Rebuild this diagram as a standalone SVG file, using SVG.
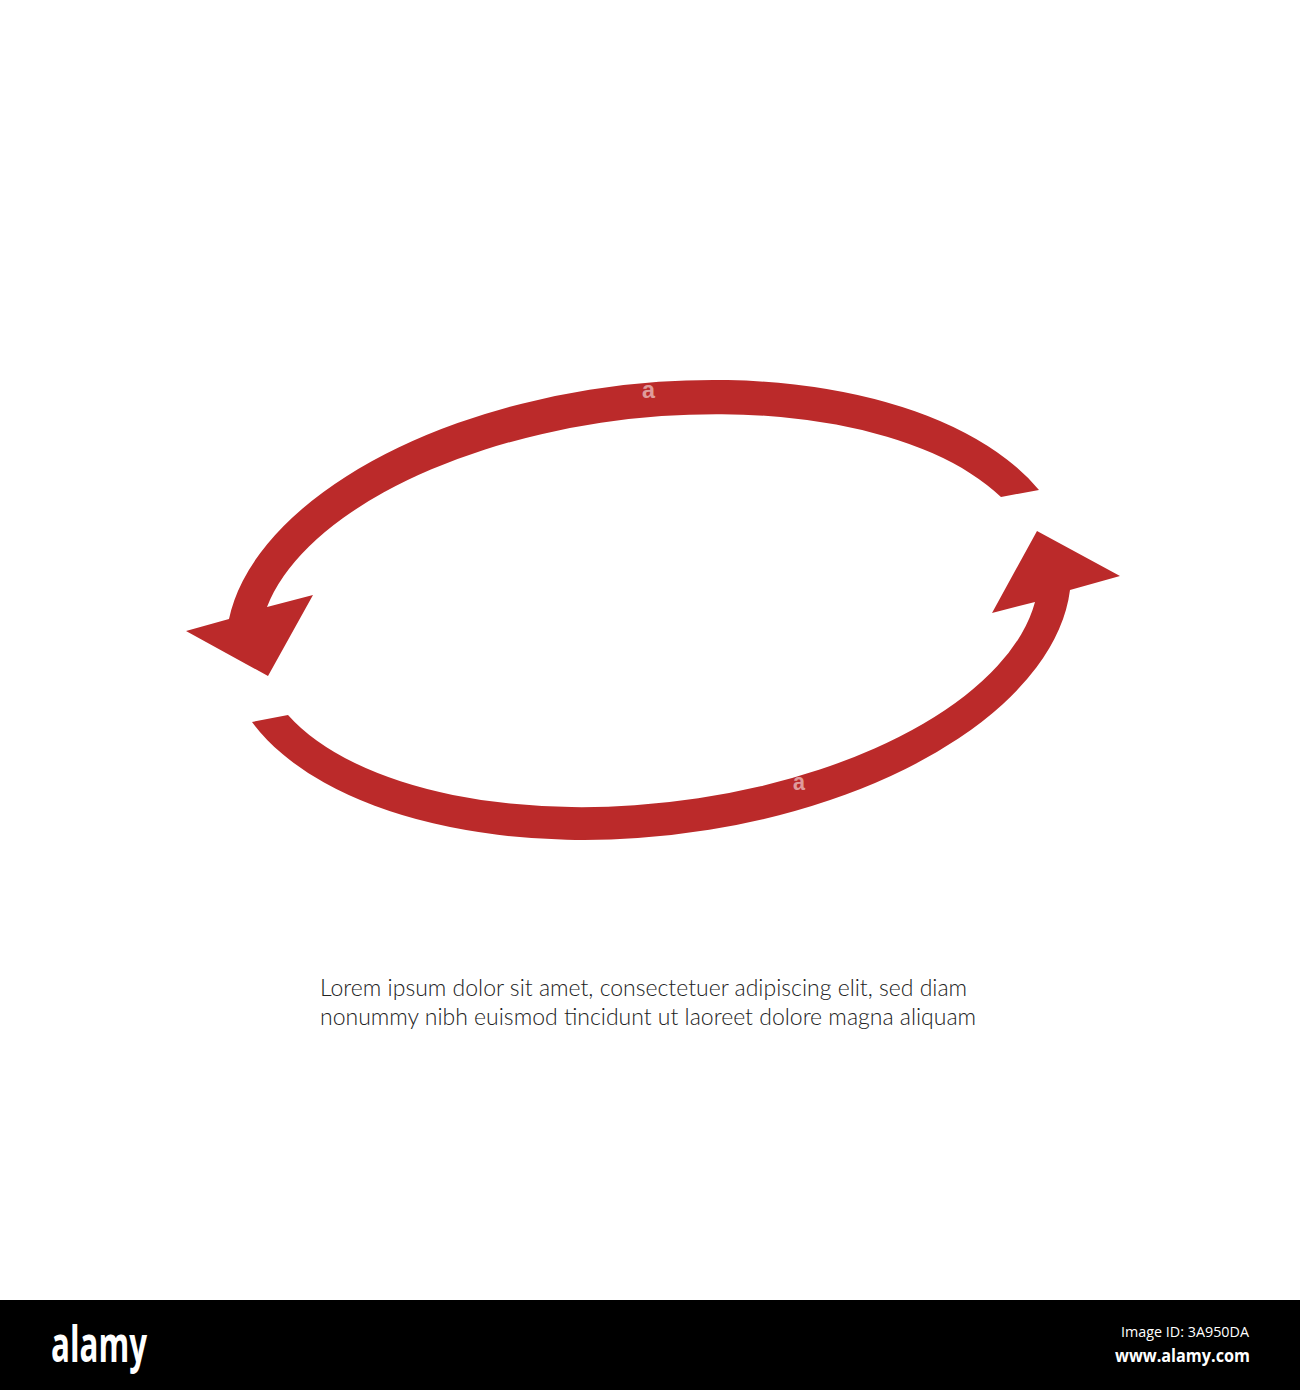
<svg xmlns="http://www.w3.org/2000/svg" width="1300" height="1390" viewBox="0 0 1300 1390">
  <style>
    .arrow { fill: #bb2a2a; }
    .wm { font-family: "Liberation Sans", Arial, sans-serif; font-weight: bold; font-size: 24px; fill: #ffffff; fill-opacity: 0.55; }
    .caption { font-family: Lato, "Open Sans", sans-serif; font-weight: 300; font-size: 23px; fill: #222222; }
    .logo { font-family: "Open Sans", "DejaVu Sans", sans-serif; font-weight: bold; fill: #ffffff; }
    .meta { font-family: "Open Sans", "DejaVu Sans", sans-serif; fill: #ffffff; }
  </style>
  <rect x="0" y="0" width="1300" height="1390" fill="#ffffff"/>

  <g id="connectors">
    <!-- upper arc, arrow pointing down-left -->
    <path id="arc-upper" class="arrow"
      d="M 267,607 L 313,595 L 268,676 L 186,631 L 229,619
         A 425 227 -6.6 0 1 1039,490
         L 1001,497
         A 392 194 -6.6 0 0 267,607 Z"/>
    <!-- lower arc, arrow pointing up-right -->
    <path id="arc-lower" class="arrow"
      d="M 1035,602 L 992,613 L 1037,531 L 1120,576 L 1070,590
         A 425 227 -6.6 0 1 252,722
         L 288,715
         A 392 194 -6.6 0 0 1035,602 Z"/>
  </g>

  <text class="wm" x="642" y="398" textLength="13" lengthAdjust="spacingAndGlyphs">a</text>
  <text class="wm" x="793" y="790" textLength="12" lengthAdjust="spacingAndGlyphs">a</text>

  <g id="caption">
    <text class="caption" x="320" y="996">Lorem ipsum dolor sit amet, consectetuer adipiscing elit, sed diam</text>
    <text class="caption" x="320" y="1025">nonummy nibh euismod tincidunt ut laoreet dolore magna aliquam</text>
  </g>

  <g id="footer">
    <rect x="0" y="1300" width="1300" height="90" fill="#000000"/>
    <text class="logo" x="51" y="1362" font-size="50" textLength="96" lengthAdjust="spacingAndGlyphs">alamy</text>
    <text class="meta" x="1121" y="1337" font-size="14" textLength="128" lengthAdjust="spacingAndGlyphs">Image ID: 3A950DA</text>
    <text class="meta" x="1115" y="1362" font-size="17" font-weight="bold" textLength="135" lengthAdjust="spacingAndGlyphs">www.alamy.com</text>
  </g>
</svg>
